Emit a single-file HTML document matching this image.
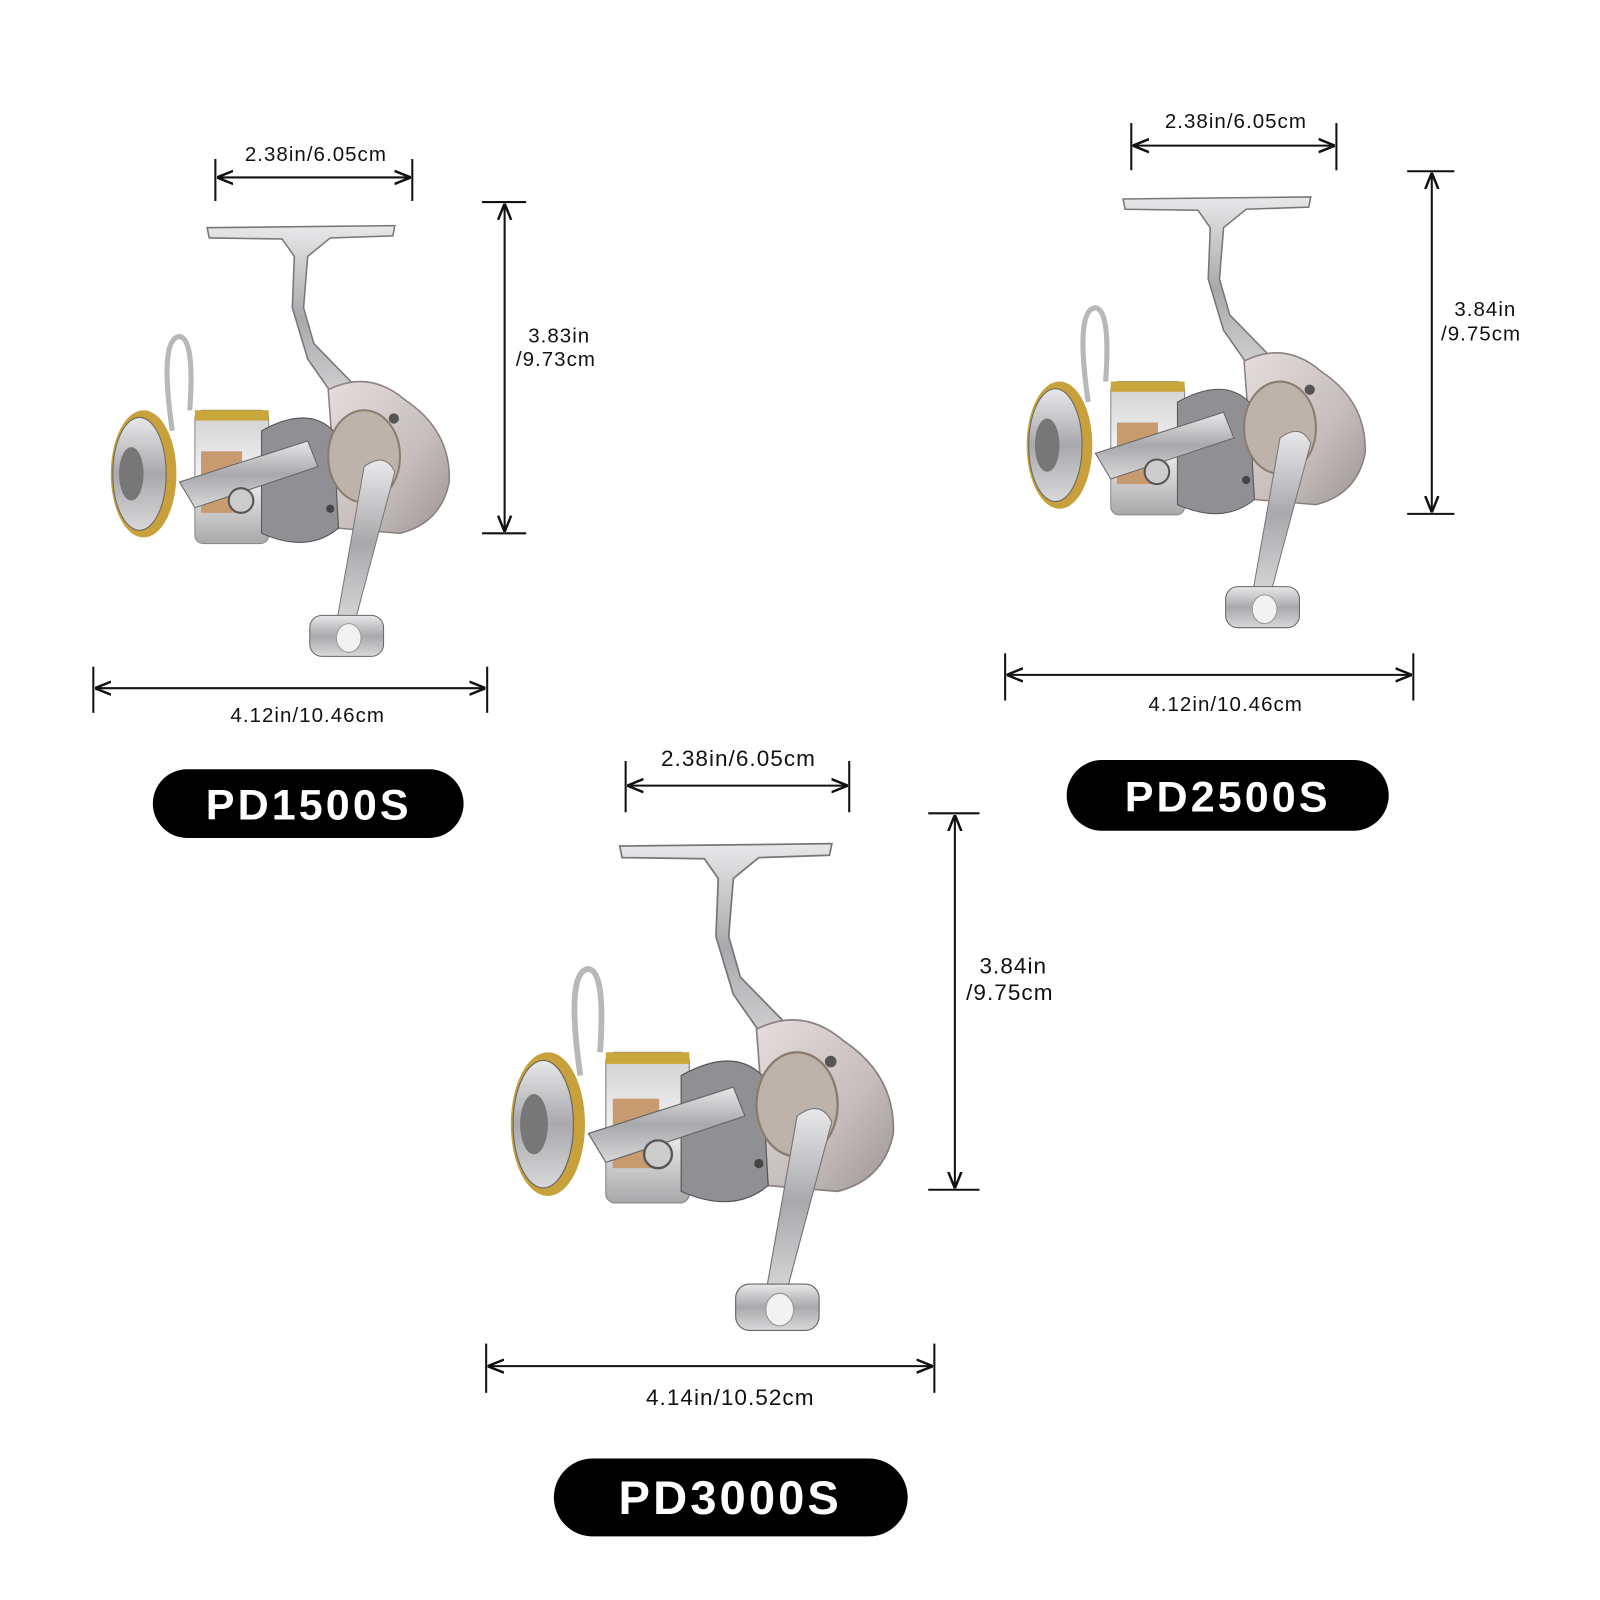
<!DOCTYPE html>
<html><head><meta charset="utf-8"><style>
html,body{margin:0;padding:0;background:#fff;}
#wrap{position:relative;width:1560px;height:1560px;transform:scale(1.02564);transform-origin:0 0;}
svg{position:absolute;left:0;top:0;}
</style></head><body><div id="wrap">
<svg width="1560" height="1560" viewBox="0 0 1560 1560" xmlns="http://www.w3.org/2000/svg">
<defs>
<linearGradient id="met" x1="0" y1="0" x2="0" y2="1"><stop offset="0" stop-color="#e8e8ea"/><stop offset=".5" stop-color="#a9a9ad"/><stop offset="1" stop-color="#d8d8da"/></linearGradient>
<linearGradient id="body" x1="0" y1="0" x2="1" y2="1"><stop offset="0" stop-color="#e6dede"/><stop offset=".6" stop-color="#c6bcbc"/><stop offset="1" stop-color="#9d9494"/></linearGradient>
<linearGradient id="spool" x1="0" y1="0" x2="0" y2="1"><stop offset="0" stop-color="#d0d0d2"/><stop offset=".5" stop-color="#f2f2f2"/><stop offset="1" stop-color="#a8a8aa"/></linearGradient>
<marker id="ah" viewBox="0 0 10 10" refX="9" refY="5" markerWidth="8" markerHeight="8" orient="auto-start-reverse"><path d="M0,1 L10,5 L0,9" fill="none" stroke="#111" stroke-width="1.5"/></marker>
<g id="reel">
<!-- T handle -->
<path d="M202,222 L385,220 L383,230 L322,232 L300,250 L296,300 L306,335 L345,375 L335,400 L300,350 L285,300 L287,250 L275,233 L204,232 Z" fill="url(#met)" stroke="#777" stroke-width="1.5"/>
<!-- rotor body -->
<path d="M320,380 Q360,360 395,390 Q440,420 438,470 Q430,510 390,520 L330,515 Z" fill="url(#body)" stroke="#8a8080" stroke-width="1.5"/>
<circle cx="384" cy="408" r="5" fill="#555"/>
<!-- bail -->
<path d="M168,420 Q155,330 175,328 Q190,330 185,400" fill="none" stroke="#b8b8bb" stroke-width="5"/>
<!-- spool -->
<rect x="190" y="400" width="72" height="130" rx="8" fill="url(#spool)" stroke="#888"/>
<rect x="190" y="400" width="72" height="10" fill="#c9a63a"/>
<rect x="196" y="440" width="40" height="60" fill="#c79a70"/>
<!-- front cap -->
<ellipse cx="140" cy="462" rx="32" ry="62" fill="#c8a13c"/>
<ellipse cx="136" cy="462" rx="26" ry="55" fill="url(#met)" stroke="#666"/>
<ellipse cx="128" cy="462" rx="12" ry="26" fill="#777"/>
<!-- body center -->
<path d="M255,420 Q300,395 325,420 L330,515 Q300,540 255,520 Z" fill="#8f8f94" stroke="#555"/>
<path d="M175,470 L300,430 L310,455 L190,495 Z" fill="url(#met)" stroke="#666"/>
<circle cx="235" cy="488" r="12" fill="#ccc" stroke="#555" stroke-width="2"/>
<!-- spool axle disk -->
<ellipse cx="355" cy="445" rx="35" ry="45" fill="#bdb3aa" stroke="#8a7d6d" stroke-width="2"/>
<!-- crank arm -->
<path d="M355,455 Q375,440 385,460 L345,610 L328,608 Z" fill="url(#met)" stroke="#777"/>
<rect x="302" y="600" width="72" height="40" rx="12" fill="url(#met)" stroke="#666"/>
<ellipse cx="340" cy="622" rx="12" ry="14" fill="#f2f2f2" stroke="#999"/>
<circle cx="322" cy="496" r="4" fill="#444"/>
</g>
</defs>
<use href="#reel"/>
<use href="#reel" transform="translate(893,-28)"/>
<use href="#reel" transform="translate(376,574) scale(1.13)"/>

<g stroke="#111" stroke-width="2" fill="none">
<!-- reel1 -->
<line x1="210" y1="155" x2="210" y2="196"/><line x1="402" y1="155" x2="402" y2="196"/>
<line x1="213" y1="173" x2="399" y2="173" marker-start="url(#ah)" marker-end="url(#ah)"/>
<line x1="470" y1="197" x2="513" y2="197"/><line x1="470" y1="520" x2="513" y2="520"/>
<line x1="492" y1="200" x2="492" y2="517" marker-start="url(#ah)" marker-end="url(#ah)"/>
<line x1="91" y1="650" x2="91" y2="695"/><line x1="475" y1="650" x2="475" y2="695"/>
<line x1="94" y1="671" x2="472" y2="671" marker-start="url(#ah)" marker-end="url(#ah)"/>
<!-- reel2 -->
<line x1="1103" y1="120" x2="1103" y2="166"/><line x1="1303" y1="120" x2="1303" y2="166"/>
<line x1="1106" y1="142" x2="1300" y2="142" marker-start="url(#ah)" marker-end="url(#ah)"/>
<line x1="1372" y1="167" x2="1418" y2="167"/><line x1="1372" y1="501" x2="1418" y2="501"/>
<line x1="1396" y1="170" x2="1396" y2="498" marker-start="url(#ah)" marker-end="url(#ah)"/>
<line x1="980" y1="637" x2="980" y2="683"/><line x1="1378" y1="637" x2="1378" y2="683"/>
<line x1="983" y1="658" x2="1375" y2="658" marker-start="url(#ah)" marker-end="url(#ah)"/>
<!-- reel3 -->
<line x1="610" y1="742" x2="610" y2="792"/><line x1="828" y1="742" x2="828" y2="792"/>
<line x1="613" y1="766" x2="825" y2="766" marker-start="url(#ah)" marker-end="url(#ah)"/>
<line x1="905" y1="793" x2="955" y2="793"/><line x1="905" y1="1160" x2="955" y2="1160"/>
<line x1="931" y1="796" x2="931" y2="1157" marker-start="url(#ah)" marker-end="url(#ah)"/>
<line x1="474" y1="1310" x2="474" y2="1358"/><line x1="911" y1="1310" x2="911" y2="1358"/>
<line x1="477" y1="1332" x2="908" y2="1332" marker-start="url(#ah)" marker-end="url(#ah)"/>
</g>

<g font-family="Liberation Sans, sans-serif" fill="#111" font-size="20" letter-spacing="1">
<text x="308" y="157" text-anchor="middle">2.38in/6.05cm</text>
<text x="515" y="334">3.83in</text>
<text x="503" y="357">/9.73cm</text>
<text x="300" y="704" text-anchor="middle">4.12in/10.46cm</text>
<text x="1205" y="125" text-anchor="middle">2.38in/6.05cm</text>
<text x="1418" y="308">3.84in</text>
<text x="1405" y="332">/9.75cm</text>
<text x="1195" y="693" text-anchor="middle">4.12in/10.46cm</text>
<text x="720" y="747" text-anchor="middle" font-size="22">2.38in/6.05cm</text>
<text x="955" y="949" font-size="22">3.84in</text>
<text x="942" y="975" font-size="22">/9.75cm</text>
<text x="712" y="1370" text-anchor="middle" font-size="22">4.14in/10.52cm</text>
</g>

<rect x="149" y="750" width="303" height="67" rx="33.5" fill="#000"/>
<rect x="1040" y="741" width="314" height="69" rx="34.5" fill="#000"/>
<rect x="540" y="1422" width="345" height="76" rx="38" fill="#000"/>
<g font-family="Liberation Sans, sans-serif" font-weight="bold" fill="#fff" text-anchor="middle" letter-spacing="3">
<text x="301" y="799" font-size="42">PD1500S</text>
<text x="1197" y="791" font-size="42">PD2500S</text>
<text x="712" y="1476" font-size="46">PD3000S</text>
</g>
</svg>
</div></body></html>
